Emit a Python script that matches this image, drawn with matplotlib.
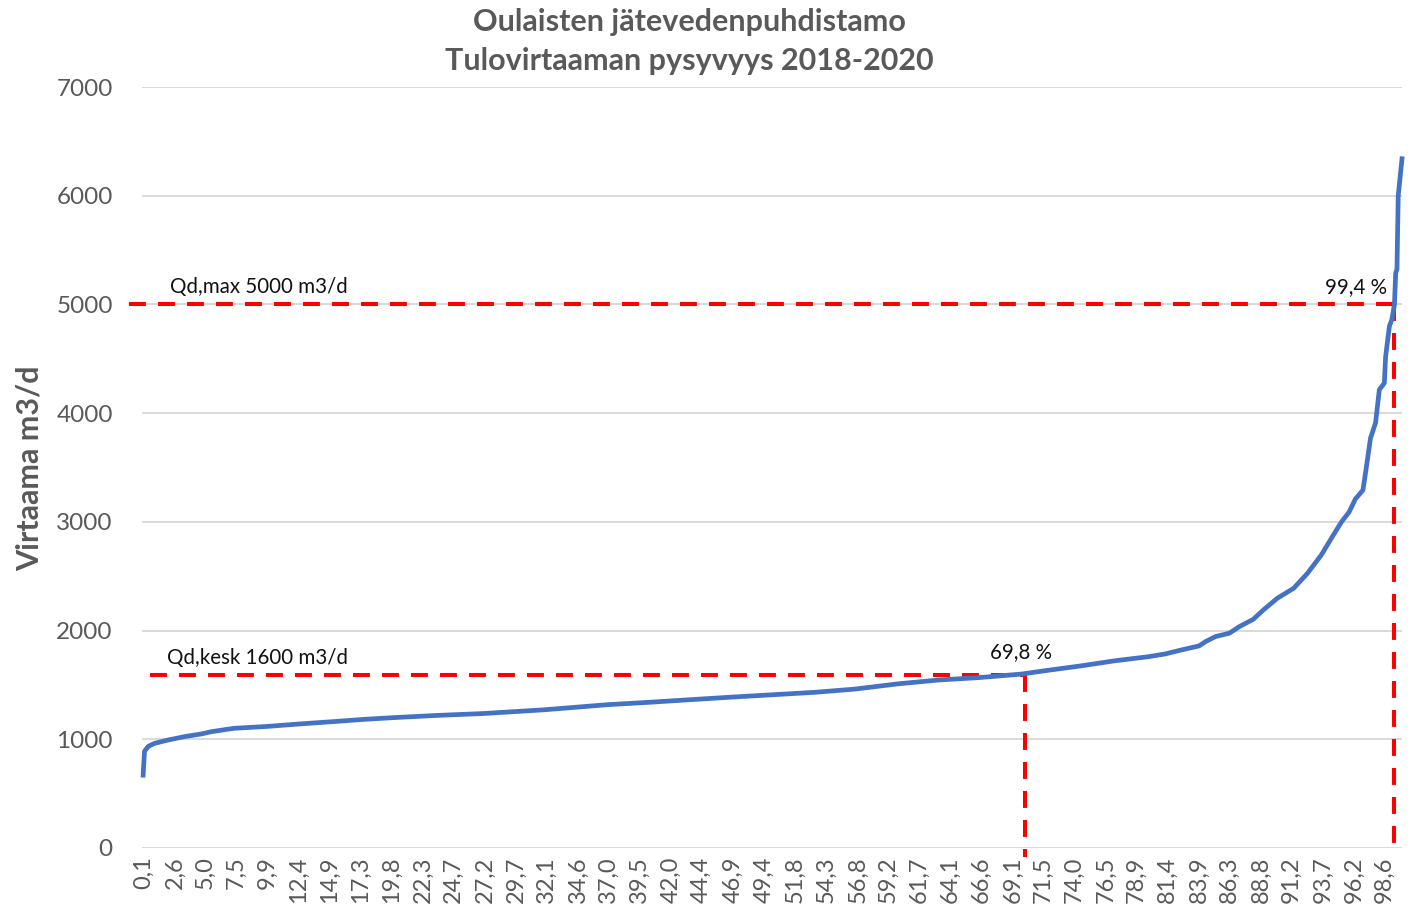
import matplotlib
matplotlib.use("Agg")
import matplotlib.pyplot as plt

# ---- data ----
percent = [0.09, 0.2, 0.5, 1.0, 2.1, 3.4, 4.7, 5.5, 7.3, 9.9, 12.5, 15.1, 17.7, 20.4,
           23.5, 27.1, 32.0, 36.9, 40.2, 46.8, 53.4, 56.6, 60.0, 63.2, 66.5, 69.8,
           71.8, 74.5, 77.2, 79.9, 81.2, 82.5, 83.9, 84.4, 85.2, 86.3, 87.1, 88.2,
           89.0, 90.1, 91.4, 92.5, 93.6, 94.4, 95.2, 95.8, 96.3, 96.9, 97.1, 97.5,
           97.9, 98.2, 98.6, 98.7, 99.0, 99.2, 99.4, 99.5, 99.6, 99.7, 100.0]
flow = [670, 890, 935, 963, 994, 1025, 1049, 1070, 1101, 1118, 1141, 1162, 1184, 1202,
        1220, 1237, 1272, 1318, 1340, 1388, 1432, 1462, 1510, 1545, 1568, 1600,
        1633, 1675, 1722, 1760, 1785, 1822, 1859, 1898, 1945, 1976, 2037, 2104,
        2190, 2297, 2389, 2527, 2696, 2850, 3000, 3090, 3210, 3292, 3446, 3770,
        3910, 4215, 4277, 4520, 4800, 4862, 5000, 5290, 5323, 6000, 6340]

x_tick_labels = ["0,1", "2,6", "5,0", "7,5", "9,9", "12,4", "14,9", "17,3", "19,8",
                 "22,3", "24,7", "27,2", "29,7", "32,1", "34,6", "37,0", "39,5",
                 "42,0", "44,4", "46,9", "49,4", "51,8", "54,3", "56,8", "59,2",
                 "61,7", "64,1", "66,6", "69,1", "71,5", "74,0", "76,5", "78,9",
                 "81,4", "83,9", "86,3", "88,8", "91,2", "93,7", "96,2", "98,6"]
y_ticks = [0, 1000, 2000, 3000, 4000, 5000, 6000, 7000]

qd_max = 5000
qd_max_pct = 99.4
qd_kesk = 1590
qd_kesk_pct_pos = 70.1

title_lines = ["Oulaisten jätevedenpuhdistamo", "Tulovirtaaman pysyvyys 2018-2020"]
y_label = "Virtaama m3/d"

# ---- style ----
plt.rcParams['font.family'] = ['Lato', 'DejaVu Sans']
GRAY = "#595959"
BLUE = "#4472C4"
RED = "#FF0000"

fig = plt.figure(figsize=(14.10, 9.09), dpi=100)
ax = fig.add_axes([142/1410, 1-848/909, 1260/1410, (848-87)/909])

ax.set_xlim(0, 100)
ax.set_ylim(0, 7000)
ax.set_yticks(y_ticks)
ax.set_yticklabels([str(v) for v in y_ticks])
ax.grid(axis='y', color='#D9D9D9', linewidth=1.4)
ax.set_axisbelow(True)
for s in ax.spines.values():
    s.set_visible(False)

tick_pos = [float(t.replace(',', '.')) for t in x_tick_labels]
ax.set_xticks(tick_pos)
ax.set_xticklabels(x_tick_labels, rotation=90)
ax.tick_params(axis='x', length=0, pad=6, labelsize=17, labelcolor=GRAY)
ax.tick_params(axis='y', length=0, pad=21, labelsize=17.5, labelcolor=GRAY)

# reference dashed lines
dash = (0, (4.2, 3.0))
ax.plot([-1.0, qd_max_pct], [qd_max, qd_max], color=RED, lw=2.9, ls=dash, clip_on=False, zorder=3)
ax.plot([qd_max_pct, qd_max_pct], [qd_max, -20], color=RED, lw=2.9, ls=dash, clip_on=False, zorder=3)
ax.plot([0.6, qd_kesk_pct_pos], [qd_kesk, qd_kesk], color=RED, lw=2.9, ls=dash, clip_on=False, zorder=3)
ax.plot([qd_kesk_pct_pos, qd_kesk_pct_pos], [qd_kesk, -80], color=RED, lw=2.9, ls=dash, clip_on=False, zorder=3)

# duration curve
ax.plot(percent, flow, color=BLUE, lw=3.4, solid_joinstyle='round', zorder=4, clip_on=False)

# annotations
ax.text(2.2, qd_max + 70, "Qd,max 5000 m3/d", fontsize=14.8, color="#111111", ha='left', va='bottom')
ax.text(2.0, qd_kesk + 70, "Qd,kesk 1600 m3/d", fontsize=14.8, color="#111111", ha='left', va='bottom')
ax.text(69.8, qd_kesk + 120, "69,8 %", fontsize=14.8, color="#111111", ha='center', va='bottom')
ax.text(98.8, qd_max + 70, "99,4 %", fontsize=14.8, color="#111111", ha='right', va='bottom')

fig.text(30/1410, 1-468/909, y_label, rotation=90, ha='center', va='center',
         fontsize=22, fontweight='bold', color=GRAY)
fig.text(689/1410, 1-22/909, title_lines[0], ha='center', va='center',
         fontsize=22, fontweight='bold', color=GRAY)
fig.text(689/1410, 1-61/909, title_lines[1], ha='center', va='center',
         fontsize=22, fontweight='bold', color=GRAY)

fig.savefig("out.png", dpi=100)
